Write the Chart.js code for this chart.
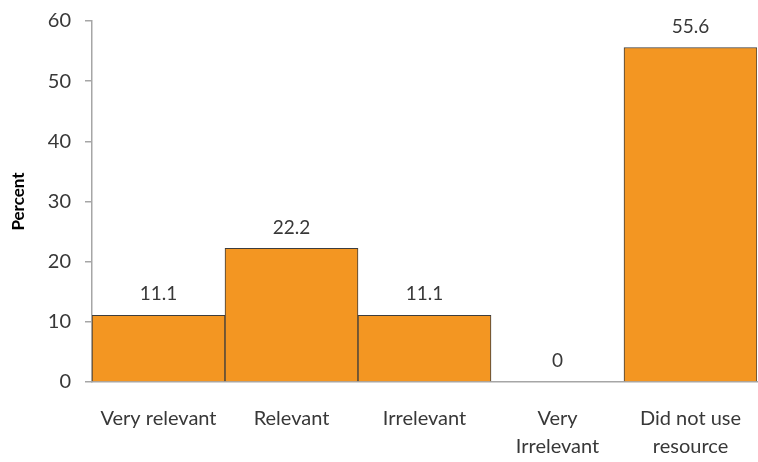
<!DOCTYPE html>
<html>
<head>
<meta charset="utf-8">
<script src="https://cdn.jsdelivr.net/npm/chart.js@4/dist/chart.umd.min.js"></script>
<style>
  html, body { margin: 0; padding: 0; background: #fff; }
  #wrap { width: 758px; height: 462px; position: relative; }
</style>
</head>
<body>
<div id="wrap"><canvas id="c" width="758" height="462"></canvas></div>
<script>
// Relevance ratings of the resource (percent of respondents)
const categories = [
  'Very relevant',
  'Relevant',
  'Irrelevant',
  ['Very', 'Irrelevant'],
  ['Did not use', 'resource']
];
const percentValues = [11.1, 22.2, 11.1, 0, 55.6];
const yTicks = [0, 10, 20, 30, 40, 50, 60];

const FONT = 'Lato, "Open Sans", sans-serif';
const TEXT = '#383838';
const AXIS = '#A6A6A6';

// Writes each bar's value just above its top
const valueLabels = {
  id: 'valueLabels',
  afterDatasetsDraw(chart) {
    const ctx = chart.ctx;
    const meta = chart.getDatasetMeta(0);
    const data = chart.data.datasets[0].data;
    ctx.save();
    ctx.font = '19px ' + FONT;
    ctx.fillStyle = TEXT;
    ctx.textAlign = 'center';
    ctx.textBaseline = 'middle';
    meta.data.forEach((bar, i) => {
      ctx.fillText(String(data[i]), bar.x, bar.y - 21);
    });
    ctx.restore();
  }
};

new Chart(document.getElementById('c'), {
  type: 'bar',
  data: {
    labels: categories,
    datasets: [{
      data: percentValues,
      backgroundColor: '#F39622',
      borderColor: '#3D3D3D',
      borderWidth: 1,
      borderSkipped: 'start',
      categoryPercentage: 1.0,
      barPercentage: 1.0
    }]
  },
  options: {
    responsive: false,
    animation: false,
    events: [],
    layout: { padding: { top: 21, right: 1, left: 0, bottom: 0 } },
    plugins: {
      legend: { display: false },
      tooltip: { enabled: false }
    },
    scales: {
      x: {
        grid: { display: false },
        border: { display: true, color: AXIS, width: 1.5 },
        ticks: {
          color: TEXT,
          font: { family: FONT, size: 20, lineHeight: 1.4 },
          padding: 15,
          maxRotation: 0,
          autoSkip: false
        },
        afterFit(scale) {
          scale.height = 80;
          scale.paddingLeft = 0;
          scale.paddingRight = 0;
        }
      },
      y: {
        min: 0,
        max: 60,
        afterBuildTicks(scale) { scale.ticks = yTicks.map(v => ({ value: v })); },
        grid: {
          display: true,
          drawOnChartArea: false,
          drawTicks: true,
          tickLength: 7,
          color: AXIS,
          lineWidth: 1.5
        },
        border: { display: true, color: AXIS, width: 1.5 },
        ticks: {
          color: TEXT,
          font: { family: FONT, size: 20 },
          padding: 14
        },
        title: {
          display: true,
          text: 'Percent',
          color: '#000',
          font: { family: FONT, size: 17, weight: 'bold' },
          padding: { top: 8, bottom: 0 }
        },
        afterFit(scale) {
          scale.width = 92;
          scale.paddingTop = 0;
          scale.paddingBottom = 0;
        }
      }
    }
  },
  plugins: [valueLabels]
});
</script>
</body>
</html>
